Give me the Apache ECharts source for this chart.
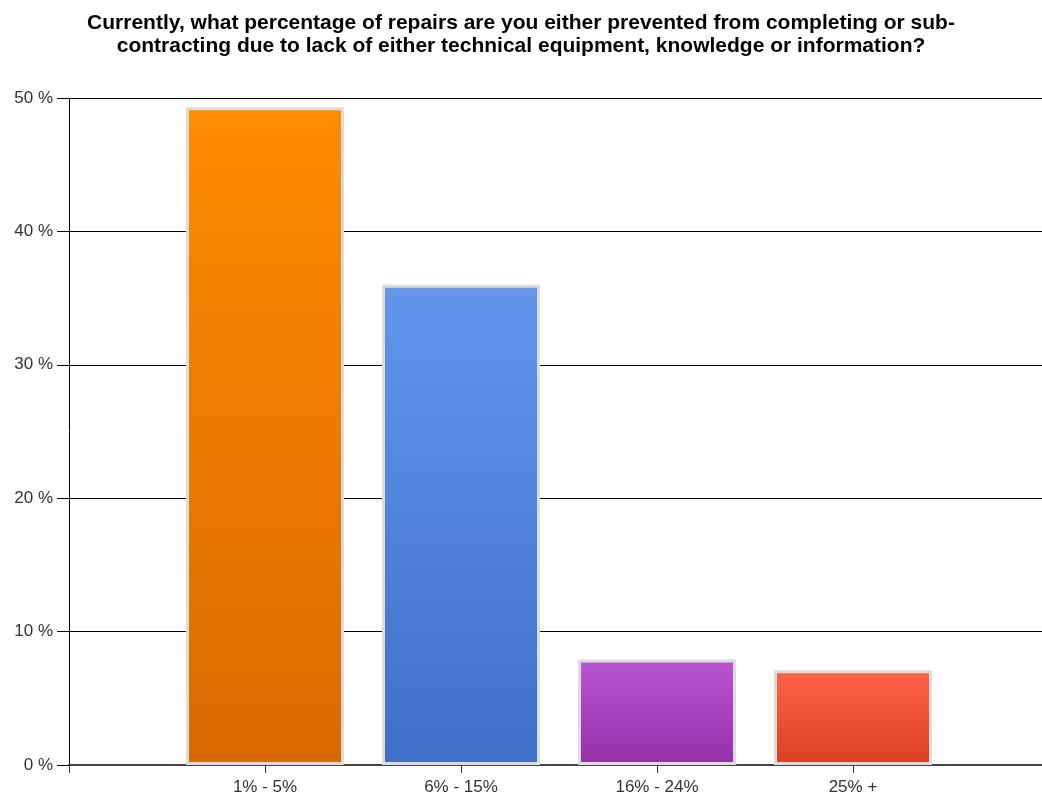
<!DOCTYPE html>
<html>
<head>
<meta charset="utf-8">
<title>Repairs prevented or sub-contracted</title>
<script src="https://cdn.jsdelivr.net/npm/echarts@6/dist/echarts.min.js"></script>
<style>
  html, body { margin: 0; padding: 0; background: #ffffff; }
  #chart { width: 1042px; height: 796px; }
</style>
</head>
<body>
<div id="chart"></div>
<script>
// Answer buckets and share of respondents (%)
const categories = ['1% - 5%', '6% - 15%', '16% - 24%', '25% +'];
const shares = [49.3, 36.0, 7.9, 7.1];
// Top / bottom gradient colours for each bar
const topColors = ['#ff8c00', '#6495ed', '#ba55d3', '#ff6347'];
const bottomColors = ['#da6800', '#3f6fc6', '#9530a8', '#d94020'];

const titleText = 'Currently, what percentage of repairs are you either prevented from completing or sub-\ncontracting due to lack of either technical equipment, knowledge or information?';

// Pad with empty slots so the bars sit on interior ticks of the axis
const axisCats = [''].concat(categories, ['']);
const barData = [null].concat(shares.map((v, i) => ({
  value: v,
  itemStyle: {
    color: new echarts.graphic.LinearGradient(0, 0, 0, 1, [
      { offset: 0, color: topColors[i] },
      { offset: 1, color: bottomColors[i] }
    ])
  }
})), [null]);

const chart = echarts.init(document.getElementById('chart'), null, { renderer: 'canvas' });
chart.setOption({
  animation: false,
  backgroundColor: '#ffffff',
  title: {
    text: titleText,
    left: 'center',
    top: 7,
    textStyle: {
      fontFamily: 'Liberation Sans, Arial, sans-serif',
      fontWeight: 'bold',
      fontSize: 21,
      lineHeight: 23,
      color: '#000000'
    }
  },
  // the plot runs a little past the right edge of the page
  grid: { left: 69, top: 98, width: 980, height: 667, containLabel: false, outerBoundsMode: 'none' },
  xAxis: {
    type: 'category',
    data: axisCats,
    boundaryGap: false,
    axisLine: { lineStyle: { color: '#444444', width: 2 } },
    axisTick: { show: true, length: 8, interval: 0, lineStyle: { color: '#333333', width: 1 } },
    axisLabel: {
      interval: 0,
      margin: 14,
      fontFamily: 'Liberation Sans, Arial, sans-serif',
      fontSize: 17,
      color: '#333333'
    },
    splitLine: { show: false }
  },
  yAxis: {
    type: 'value',
    min: 0,
    max: 50,
    interval: 10,
    axisLine: { show: true, lineStyle: { color: '#000000', width: 1 } },
    axisTick: { show: true, length: 12, lineStyle: { color: '#000000', width: 1 } },
    axisLabel: {
      formatter: '{value} %',
      margin: 16,
      fontFamily: 'Liberation Sans, Arial, sans-serif',
      fontSize: 17,
      color: '#333333'
    },
    splitLine: { show: true, lineStyle: { color: '#000000', width: 1 } }
  },
  series: [{
    type: 'bar',
    data: barData,
    barWidth: 158,
    itemStyle: { borderColor: '#dcdcdc', borderWidth: 3 }
  }]
});
</script>
</body>
</html>
